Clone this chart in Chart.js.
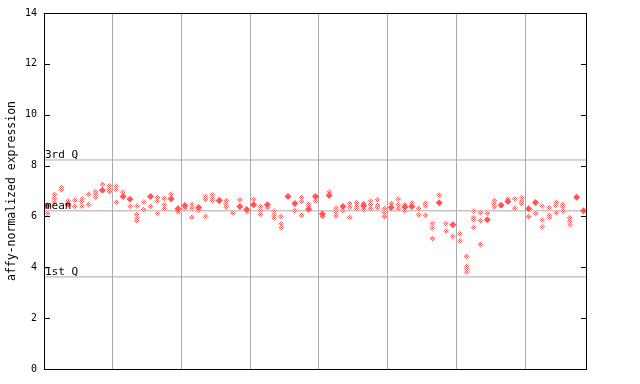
<!DOCTYPE html>
<html><head><meta charset="utf-8">
<script src="https://cdn.jsdelivr.net/npm/chart.js@4"></script>
<style>html,body{margin:0;padding:0;background:#fff}</style>
</head><body>
<canvas id="c" width="640" height="384"></canvas>
<script>
// ---- data ----
const yTicks = [0, 2, 4, 6, 8, 10, 12, 14];
const groupBoundaries = [9.5, 19.5, 29.5, 39.5, 49.5, 59.5, 69.5];
const refLabels = ['3rd Q', 'mean', '1st Q'];
const refValues = [8.22, 6.22, 3.62];
// filled (highlighted) value per sample column, null if none
const filledValues = [
  6.42, null, null, 6.48, null, null, null, null, 7.03, null,
  null, 6.78, 6.68, null, null, 6.78, null, null, 6.70, 6.30,
  6.43, null, 6.35, null, null, 6.62, null, null, 6.39, 6.27,
  6.46, null, 6.46, null, null, 6.78, 6.51, null, 6.28, 6.78,
  6.10, 6.82, null, 6.39, null, null, 6.42, null, null, null,
  6.35, null, 6.37, 6.39, null, null, null, 6.54, null, 5.67,
  null, null, null, null, 5.87, null, 6.44, 6.59, null, null,
  6.30, 6.55, null, null, null, null, null, 6.75, 6.22
];
// replicate values per sample column
const replicateValues = [
  [6.13], [6.85, 6.72, 6.58], [7.14, 7.04], [6.61], [6.65, 6.40],
  [6.70, 6.59, 6.40], [6.88, 6.46], [6.96, 6.86, 6.76], [7.28], [7.20, 7.09, 6.98],
  [7.20, 7.06, 6.56], [6.95], [6.40], [6.42, 6.08, 5.95, 5.83], [6.56, 6.26],
  [6.40], [6.75, 6.62, 6.13], [6.72, 6.45, 6.30], [6.87], [6.18],
  [6.33], [6.47, 6.32, 5.98], [6.25], [6.78, 6.66, 6.00], [6.84, 6.73, 6.62],
  [6.68], [6.62, 6.50, 6.37], [6.13], [6.65], [6.19],
  [6.69], [6.38, 6.25, 6.10], [6.33], [6.20, 6.05, 5.95], [6.00, 5.70, 5.55],
  [], [6.22], [6.75, 6.60, 6.06], [6.50, 6.38], [6.62],
  [6.00], [6.95], [6.33, 6.18, 6.03], [6.22], [6.51, 6.37, 5.97],
  [6.54, 6.42, 6.30], [6.50, 6.25], [6.60, 6.47, 6.33], [6.65, 6.43, 6.33], [6.30, 6.13, 6.00],
  [6.51], [6.69, 6.46, 6.30], [6.45, 6.22], [6.54], [6.30, 6.06],
  [6.53, 6.40, 6.06], [5.72, 5.55, 5.12], [6.85], [5.72, 5.43], [5.22],
  [5.31, 5.04], [4.43, 4.05, 3.92, 3.82], [6.22, 5.94, 5.85, 5.58], [6.13, 5.83, 4.91], [6.13],
  [6.62, 6.50, 6.37], [], [6.69], [6.69, 6.33], [6.72, 6.60, 6.50],
  [6.00], [6.13], [6.42, 5.87, 5.58], [6.33, 6.06, 5.96], [6.56, 6.43, 6.14],
  [6.48, 6.38, 6.20], [5.95, 5.82, 5.68], [], []
];
const yTitle = 'affy-normalized expression';

// ---- build ----
const nCols = replicateValues.length;
const xMin = -0.5, xMax = nCols - 0.5;
const repPoints = [];
replicateValues.forEach((arr, i) => arr.forEach(v => repPoints.push({x: i, y: v})));
const filledPoints = [];
filledValues.forEach((v, i) => { if (v !== null) filledPoints.push({x: i, y: v}); });

const RED = '#ff5555';
const canvas = document.getElementById('c');
const ctx = canvas.getContext('2d');
const pc = document.createElement('canvas'); pc.width = 2; pc.height = 2;
const pctx = pc.getContext('2d');
pctx.fillStyle = '#ffffff'; pctx.fillRect(0, 0, 2, 2);
pctx.fillStyle = RED; pctx.fillRect(0, 0, 1, 1); pctx.fillRect(1, 1, 1, 1);
const checker = ctx.createPattern(pc, 'repeat');

const refDatasets = refValues.map(v => ({
  type: 'line',
  data: [{x: xMin, y: v}, {x: xMax, y: v}],
  borderColor: '#aaaaaa', borderWidth: 1, pointRadius: 0, order: 5
}));

const framePlugin = {
  id: 'frame',
  afterDatasetsDraw(chart) {
    const c = chart.ctx, a = chart.chartArea, ys = chart.scales.y;
    c.save();
    c.strokeStyle = '#000'; c.lineWidth = 1;
    c.strokeRect(Math.round(a.left) + 0.5, Math.round(a.top) + 0.5,
                 Math.round(a.right - a.left) - 1, Math.round(a.bottom - a.top));
    c.beginPath();
    yTicks.forEach(t => {
      const y = Math.round(ys.getPixelForValue(t)) + 0.5;
      c.moveTo(a.left, y); c.lineTo(a.left + 6, y);
      c.moveTo(a.right - 6, y); c.lineTo(a.right, y);
    });
    c.stroke();
    c.fillStyle = '#000';
    c.font = '11px "DejaVu Sans Mono", monospace';
    c.textBaseline = 'alphabetic'; c.textAlign = 'left';
    refValues.forEach((v, i) => {
      c.fillText(refLabels[i], a.left + 1, ys.getPixelForValue(v) - 1.5);
    });
    c.restore();
  }
};

new Chart(ctx, {
  type: 'scatter',
  data: {
    datasets: [
      ...refDatasets,
      { data: repPoints, pointStyle: 'rectRot', pointRadius: 3, pointHoverRadius: 3,
        backgroundColor: checker, borderWidth: 0, order: 2 },
      { data: filledPoints, pointStyle: 'rectRot', pointRadius: 3.5, pointHoverRadius: 3.5,
        backgroundColor: RED, borderWidth: 0, order: 1 }
    ]
  },
  options: {
    responsive: false, animation: false, devicePixelRatio: 1,
    layout: { padding: { left: 0, right: 53, top: 13, bottom: 15 } },
    plugins: { legend: { display: false }, tooltip: { enabled: false } },
    scales: {
      x: {
        type: 'linear', min: xMin, max: xMax,
        afterBuildTicks: s => { s.ticks = groupBoundaries.map(v => ({value: v})); },
        afterFit: s => { s.height = 0; },
        ticks: { display: false },
        grid: { color: '#aaaaaa', drawTicks: false, lineWidth: 1 },
        border: { display: false }
      },
      y: {
        min: 0, max: 14,
        afterBuildTicks: s => { s.ticks = yTicks.map(v => ({value: v})); },
        afterFit: s => { s.width = 44; },
        ticks: { padding: 7, color: '#000', font: { family: 'DejaVu Sans Mono', size: 10 } },
        grid: { drawOnChartArea: false, drawTicks: false },
        border: { display: false },
        title: { display: true, text: yTitle, color: '#000', padding: { top: 5, bottom: 0 },
                 font: { family: 'DejaVu Sans Mono', size: 11.5 } }
      }
    }
  },
  plugins: [framePlugin]
});
</script>
</body></html>
